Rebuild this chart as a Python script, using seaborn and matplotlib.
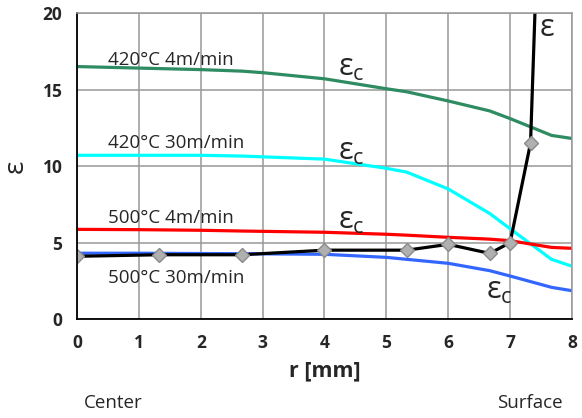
import matplotlib
matplotlib.use("Agg")
import matplotlib.pyplot as plt
import seaborn as sns
import pandas as pd

# datos
r_c = [0, 1, 2, 2.67, 3, 4, 5, 5.33, 6, 6.67, 7, 7.67, 8]
eps_c_420_4 = [16.5, 16.4, 16.3, 16.2, 16.1, 15.7, 15.05, 14.85, 14.25, 13.6, 13.1, 12.0, 11.8]
eps_c_420_30 = [10.7, 10.7, 10.7, 10.65, 10.6, 10.45, 9.85, 9.6, 8.5, 6.9, 5.9, 3.9, 3.45]
eps_c_500_4 = [5.86, 5.84, 5.8, 5.75, 5.73, 5.67, 5.54, 5.48, 5.34, 5.22, 5.12, 4.68, 4.62]
eps_c_500_30 = [4.3, 4.3, 4.28, 4.27, 4.26, 4.23, 4.03, 3.9, 3.64, 3.16, 2.81, 2.07, 1.85]

r_eps = [0, 1.33, 2.67, 4, 5.33, 6, 6.67, 7, 7.33, 7.67]
eps = [4.1, 4.2, 4.2, 4.5, 4.5, 4.88, 4.29, 4.99, 11.5, 52]

labels = ["420°C 4m/min", "420°C 30m/min", "500°C 4m/min", "500°C 30m/min"]
label_pos = [(0.5, 16.9), (0.5, 11.5), (0.5, 6.6), (0.5, 2.65)]
epsc_pos = [(4.44, 16.4), (4.44, 10.9), (4.44, 6.4), (6.83, 1.8)]

sns.set_style("white")
plt.rcParams['font.family'] = ['Open Sans', 'DejaVu Sans']
plt.rcParams['mathtext.fontset'] = 'custom'
plt.rcParams['mathtext.rm'] = 'Open Sans'

fig = plt.figure(figsize=(5.82, 4.18), dpi=100)
ax = fig.add_axes([0.1323, 0.2368, 0.8505, 0.7321])

colores = ["#2e8b62", "#00ffff", "#ff0000", "#3366ff"]
series = [eps_c_420_4, eps_c_420_30, eps_c_500_4, eps_c_500_30]
for vals, col in zip(series, colores):
    d = pd.DataFrame({"r": r_c, "e": vals})
    sns.lineplot(data=d, x="r", y="e", color=col, linewidth=2.3, ax=ax)

d_eps = pd.DataFrame({"r": r_eps, "e": eps})
sns.lineplot(data=d_eps, x="r", y="e", color="black", linewidth=2.3,
             marker="D", markersize=7, markerfacecolor="#b0b0b0",
             markeredgecolor="#8a8a8a", markeredgewidth=1, ax=ax)

ax.set_xlim(0, 8)
ax.set_ylim(0, 20)
ax.set_xticks(range(0, 9))
ax.set_yticks([0, 5, 10, 15, 20])
ax.grid(True, color="#999999", linewidth=1.1)
ax.set_axisbelow(True)
for s in ["top", "right"]:
    ax.spines[s].set_color("#999999")
    ax.spines[s].set_linewidth(1.1)
for s in ["left", "bottom"]:
    ax.spines[s].set_color("black")
    ax.spines[s].set_linewidth(1.3)
ax.tick_params(direction="inout", length=9, width=1.3, color="black",
               labelsize=12.5, pad=6)
for t in ax.get_xticklabels() + ax.get_yticklabels():
    t.set_fontweight("bold")

ax.set_xlabel("r [mm]", fontsize=15.5, fontweight="bold", labelpad=6)
ax.set_ylabel("ε", fontsize=20, labelpad=9)

for txt, (x, y) in zip(labels, label_pos):
    ax.text(x, y, txt, fontsize=13.5, ha="left", va="center")
for (x, y) in epsc_pos:
    ax.text(x, y, r"$\mathrm{ε_c}$", fontsize=22, ha="center", va="center")
ax.text(7.6, 19.0, "ε", fontsize=22, ha="center", va="center")

fig.text(84 / 582, 1 - 403 / 418, "Center", fontsize=13.5, ha="left", va="center")
fig.text(563 / 582, 1 - 403 / 418, "Surface", fontsize=13.5, ha="right", va="center")

fig.savefig("out.png", dpi=100)
